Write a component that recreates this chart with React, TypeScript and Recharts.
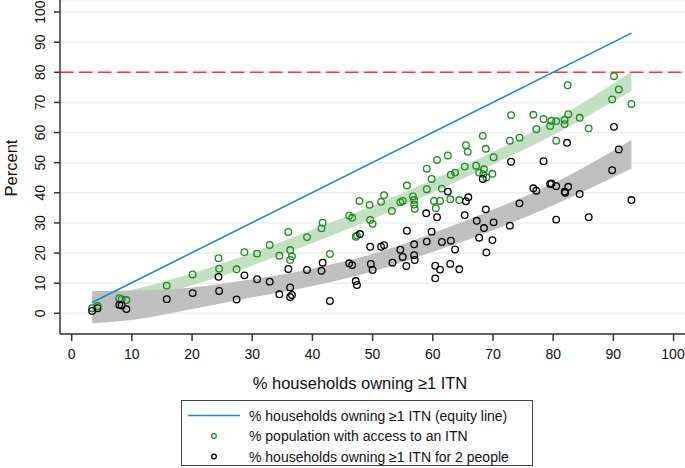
import React from 'react';
import { ComposedChart, Area, Line, Scatter, XAxis, YAxis, CartesianGrid, ReferenceLine, Label } from 'recharts';

const FONT = '"Liberation Sans", Arial, Helvetica, sans-serif';

const xTicks = [0, 10, 20, 30, 40, 50, 60, 70, 80, 90, 100];
const yTicks = [0, 10, 20, 30, 40, 50, 60, 70, 80, 90, 100];

// fitted curves with confidence bands
const bandX = [3.4, 10, 20, 30, 40, 50, 60, 70, 80, 93];
const accessBand = [[0.7, 5.7], [4.2, 7.8], [9.3, 13.3], [15.9, 20.1], [23.3, 27.7], [31.3, 35.7], [40.1, 44.3], [49.4, 53.6], [59.2, 64.0], [73.8, 80.2]];
const twoPeopleBand = [[-3.3, 7.4], [-2.2, 7.6], [1.4, 8.6], [5.3, 11.3], [9.1, 14.9], [13.9, 19.7], [20.4, 26.6], [27.6, 34.4], [35.9, 43.1], [48.1, 57.5]];

// equity line
const equityX = [3.4, 93];
const equityY = [3.6, 93];

// % population with access to an ITN
const accessPts = [
  [3.4, 1.7], [4.3, 2.4], [7.9, 5.0], [8.3, 4.7], [9.1, 4.4], [15.8, 9.2], [20.1, 12.9],
  [24.4, 18.3], [24.5, 14.8], [27.4, 14.6], [28.7, 20.3], [30.8, 19.8], [32.9, 22.7], [34.5, 19.1],
  [36.0, 27.0], [36.3, 21.0], [36.6, 18.9], [36.3, 17.7], [39.1, 25.3], [41.5, 28.2], [41.7, 30.1], [42.9, 19.7],
  [46.1, 32.4], [46.6, 31.7], [47.2, 25.4], [47.4, 25.8], [47.8, 37.3], [49.5, 36.0], [49.6, 31.0], [50.0, 29.7],
  [51.4, 37.0], [51.9, 39.2], [53.2, 34.0], [54.6, 36.9], [55.0, 37.3], [55.7, 42.4], [56.7, 38.8], [56.9, 37.6],
  [56.9, 36.1], [57.0, 34.7], [59.0, 48.0], [59.0, 41.2], [59.8, 44.6], [60.2, 37.3], [60.5, 34.9], [61.2, 37.3],
  [61.5, 41.4], [60.7, 50.9], [62.5, 52.4], [63.0, 46.0], [63.7, 46.7], [62.9, 37.9], [64.4, 37.6], [65.3, 48.7],
  [65.5, 55.8], [65.8, 53.6], [67.2, 49.0], [68.3, 58.9], [68.8, 54.6], [70.1, 51.8], [68.5, 47.8], [67.7, 46.7],
  [68.4, 46.2], [68.9, 45.1], [69.9, 46.3], [73.0, 65.8], [72.8, 57.3], [74.4, 58.3], [76.7, 65.9], [77.2, 61.1],
  [78.4, 64.5], [79.5, 62.2], [79.7, 63.9], [80.5, 63.8], [80.5, 57.3], [81.9, 64.2], [81.9, 62.8], [82.5, 66.1],
  [82.4, 75.7], [84.4, 64.9], [85.9, 61.4], [89.8, 71.0], [90.1, 78.7], [90.9, 74.3], [93.0, 69.5],
];

// % households owning >=1 ITN for 2 people
const twoPeoplePts = [
  [3.4, 0.8], [4.3, 1.7], [7.9, 2.8], [8.3, 2.6], [9.1, 1.4], [15.8, 4.7], [20.1, 6.7],
  [24.4, 12.1], [24.5, 7.4], [27.4, 4.6], [28.7, 12.6], [30.8, 11.3], [32.9, 10.5], [34.5, 6.3], [36.0, 14.7],
  [36.3, 8.6], [36.3, 5.4], [36.6, 6.1], [39.1, 14.4], [41.5, 14.1], [41.7, 16.8], [42.9, 4.1],
  [46.1, 16.6], [46.6, 16.0], [47.2, 10.7], [47.4, 9.4], [47.9, 26.3], [49.6, 22.1], [49.7, 16.4], [50.0, 14.4],
  [51.4, 22.1], [51.9, 22.6], [53.3, 16.8], [54.6, 21.1], [55.0, 18.7], [55.6, 15.7], [55.7, 27.4], [56.9, 22.9],
  [56.9, 19.3], [57.0, 17.7], [58.9, 33.2], [59.0, 23.8], [59.8, 27.1], [60.4, 15.8], [60.7, 31.9], [60.4, 11.6],
  [61.2, 14.5], [61.5, 23.7], [62.5, 40.4], [63.0, 24.1], [62.9, 16.4], [63.7, 21.2], [64.4, 14.6], [65.3, 32.6],
  [65.5, 37.2], [65.9, 38.5], [67.3, 30.7], [68.3, 44.6], [68.8, 34.5], [68.5, 28.3], [70.1, 30.2], [67.7, 25.1],
  [69.9, 24.3], [68.9, 20.2], [72.8, 29.1], [73.0, 50.3], [74.4, 36.5], [76.7, 41.5], [77.2, 40.7], [78.4, 50.5],
  [79.5, 42.9], [79.7, 43.1], [80.5, 42.2], [80.5, 31.1], [81.9, 40.4], [82.0, 40.0], [82.5, 42.0], [82.3, 56.6],
  [84.4, 39.6], [85.9, 31.9], [89.8, 47.5], [90.1, 61.9], [90.9, 54.4], [93.0, 37.6],
];

const GREEN = '#1c8c1c';
const BLUE = '#1a8bc8';

const bandRows = bandX.map((x, i) => ({ x, access: accessBand[i], two: twoPeopleBand[i] }));
const equityRows = equityX.map((x, i) => ({ x, y: equityY[i] }));
const accessRows = accessPts.map(([x, y]) => ({ x, y }));
const twoRows = twoPeoplePts.map(([x, y]) => ({ x, y }));

const XTick = ({ x, payload }: any) => (
  <text x={x} y={359} textAnchor="middle" fontSize={14} fontFamily={FONT} fill="#111">{payload.value}</text>
);

const YTick = ({ y, payload }: any) => (
  <text transform={`translate(45, ${y}) rotate(-90)`} textAnchor="middle" fontSize={14} fontFamily={FONT} fill="#111">
    {payload.value}
  </text>
);

const ring = (color: string) => (props: any) => (
  <circle cx={props.cx} cy={props.cy} r={3.3} fill="none" stroke={color} strokeWidth={1.3} />
);

export default function App() {
  return (
    <div style={{ position: 'absolute', left: 0, top: 0, width: 685, height: 468, background: '#fff', fontFamily: FONT }}>
      <ComposedChart width={685} height={468} data={bandRows} margin={{ top: 0, right: 0, bottom: 74, left: 0 }}>
        <CartesianGrid vertical={false} stroke="#e9eff2" strokeWidth={1.5} />
        <XAxis
          type="number"
          dataKey="x"
          domain={[-1.94, 101.9]}
          ticks={xTicks}
          allowDataOverflow
          height={60}
          tickSize={7}
          tick={XTick}
          axisLine={{ stroke: '#333', strokeWidth: 1.5 }}
          tickLine={{ stroke: '#333', strokeWidth: 1.5 }}
        >
          <Label
            content={() => (
              <text x={360} y={389} textAnchor="middle" fontSize={16.5} fontFamily={FONT} fill="#111">
                % households owning ≥1 ITN
              </text>
            )}
          />
        </XAxis>
        <YAxis
          type="number"
          domain={[-6.87, 104]}
          ticks={yTicks}
          allowDataOverflow
          width={60}
          tickSize={6}
          tick={YTick}
          axisLine={{ stroke: '#333', strokeWidth: 1.5 }}
          tickLine={{ stroke: '#333', strokeWidth: 1.5 }}
        >
          <Label
            content={() => (
              <text transform="translate(17, 168) rotate(-90)" textAnchor="middle" fontSize={16.5} fontFamily={FONT} fill="#111">
                Percent
              </text>
            )}
          />
        </YAxis>
        <Area type="monotone" dataKey="access" stroke="none" fill="#c3e0c3" fillOpacity={1} isAnimationActive={false} />
        <Area type="monotone" dataKey="two" stroke="none" fill="#bfbfbf" fillOpacity={1} isAnimationActive={false} />
        <ReferenceLine y={80} stroke="#ff3434" strokeWidth={1.5} strokeDasharray="13.5 5.5" />
        <Line data={equityRows} dataKey="y" type="linear" stroke={BLUE} strokeWidth={1.6} dot={false} isAnimationActive={false} />
        <Scatter data={accessRows} dataKey="y" shape={ring(GREEN)} isAnimationActive={false} />
        <Scatter data={twoRows} dataKey="y" shape={ring('#000')} isAnimationActive={false} />
      </ComposedChart>

      <div
        style={{
          position: 'absolute',
          left: 181,
          top: 400,
          width: 352,
          height: 66,
          border: '1px solid #444',
          boxSizing: 'border-box',
        }}
      >
        <svg width={350} height={64} style={{ display: 'block' }}>
          <line x1={6} y1={14.5} x2={58} y2={14.5} stroke={BLUE} strokeWidth={1.6} />
          <circle cx={32} cy={35} r={2.3} fill="none" stroke={GREEN} strokeWidth={1.3} />
          <circle cx={32} cy={55.5} r={2.3} fill="none" stroke="#000" strokeWidth={1.3} />
          <text x={67} y={19.5} fontSize={14} fontFamily={FONT} fill="#111">% households owning ≥1 ITN (equity line)</text>
          <text x={67} y={40} fontSize={14} fontFamily={FONT} fill="#111">% population with access to an ITN</text>
          <text x={67} y={60.5} fontSize={14} fontFamily={FONT} fill="#111">% households owning ≥1 ITN for 2 people</text>
        </svg>
      </div>
    </div>
  );
}
